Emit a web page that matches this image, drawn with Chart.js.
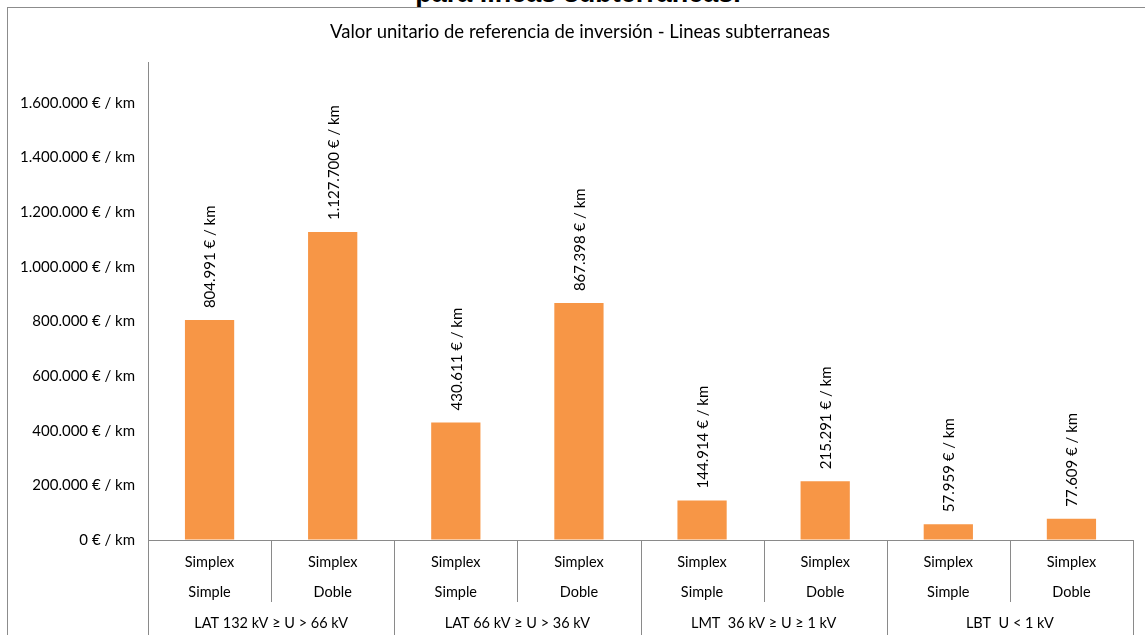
<!DOCTYPE html>
<html>
<head>
<meta charset="utf-8">
<script src="https://cdn.jsdelivr.net/npm/chart.js@4.4.1/dist/chart.umd.min.js"></script>
<style>
  html, body { margin: 0; padding: 0; background: #fff; width: 1145px; height: 635px; overflow: hidden; }
  #frame { position: absolute; left: 7px; top: 7px; width: 1200px; height: 700px; border: 1px solid #8c8c8c; box-sizing: border-box; }
  #pagetitle { position: absolute; left: 0; width: 1156px; top: -20px; text-align: center; font: bold 27px "Liberation Sans", Arial, sans-serif; line-height: 27px; color: #000; white-space: nowrap; }
  #wrap { position: absolute; left: 0; top: 0; width: 1145px; height: 635px; }
</style>
</head>
<body>
<div id="pagetitle">para líneas subterráneas.</div>
<div id="frame"></div>
<div id="wrap"><canvas id="c" width="1145" height="635"></canvas></div>
<script>
const chartTitle = 'Valor unitario de referencia de inversión - Lineas subterraneas';
const conductors = ['Simplex', 'Simplex', 'Simplex', 'Simplex', 'Simplex', 'Simplex', 'Simplex', 'Simplex'];
const circuits = ['Simple', 'Doble', 'Simple', 'Doble', 'Simple', 'Doble', 'Simple', 'Doble'];
const groups = ['LAT 132 kV ≥ U > 66 kV', 'LAT 66 kV ≥ U > 36 kV', 'LMT  36 kV ≥ U ≥ 1 kV', 'LBT  U < 1 kV'];
const values = [804991, 1127700, 430611, 867398, 144914, 215291, 57959, 77609];
const yTickValues = [0, 200000, 400000, 600000, 800000, 1000000, 1200000, 1400000, 1600000];
const yMin = 0;
const yMax = 1750000;
const unit = '€ / km';

const FONT = 'Lato, "Open Sans", sans-serif';
function fmt(v) {
  return Math.round(v).toString().replace(/\B(?=(\d{3})+(?!\d))/g, '.') + ' ' + unit;
}

const titlePlugin = {
  id: 'boxTitle',
  afterDraw(chart) {
    const ctx = chart.ctx;
    ctx.save();
    ctx.fillStyle = '#000';
    ctx.font = '18.5px ' + FONT;
    ctx.textAlign = 'center';
    ctx.textBaseline = 'middle';
    ctx.fillText(chartTitle, 580, 32);
    ctx.restore();
  }
};

const categoryPlugin = {
  id: 'categoryRows',
  afterDraw(chart) {
    const x = chart.scales.x;
    const area = chart.chartArea;
    const ctx = chart.ctx;
    const n = values.length;
    const px = i => x.getPixelForValue(i);
    ctx.save();
    ctx.strokeStyle = '#8a8a8a';
    ctx.lineWidth = 1;
    for (let i = 0; i <= n; i++) {
      let bx;
      if (i === 0) bx = area.left;
      else if (i === n) bx = area.right;
      else bx = (px(i - 1) + px(i)) / 2;
      bx = Math.round(bx) + 0.5;
      const bottom = (i % 2 === 0) ? chart.height : area.bottom + 62;
      ctx.beginPath();
      ctx.moveTo(bx, area.bottom);
      ctx.lineTo(bx, bottom);
      ctx.stroke();
    }
    ctx.fillStyle = '#000';
    ctx.font = '14.5px ' + FONT;
    ctx.textAlign = 'center';
    ctx.textBaseline = 'middle';
    for (let i = 0; i < n; i++) {
      ctx.fillText(conductors[i], px(i), area.bottom + 22);
      ctx.fillText(circuits[i], px(i), area.bottom + 52);
    }
    for (let g = 0; g < groups.length; g++) {
      const cx = (px(2 * g) + px(2 * g + 1)) / 2;
      ctx.fillText(groups[g], cx, area.bottom + 83);
    }
    ctx.restore();
  }
};

const valueLabelPlugin = {
  id: 'valueLabels',
  afterDatasetsDraw(chart) {
    const ctx = chart.ctx;
    const meta = chart.getDatasetMeta(0);
    ctx.save();
    ctx.fillStyle = '#000';
    ctx.font = '15px ' + FONT;
    ctx.textAlign = 'left';
    ctx.textBaseline = 'middle';
    meta.data.forEach((bar, i) => {
      ctx.save();
      ctx.translate(bar.x + 1, bar.y - 12);
      ctx.rotate(-Math.PI / 2);
      ctx.fillText(fmt(values[i]), 0, 0);
      ctx.restore();
    });
    ctx.restore();
  }
};

new Chart(document.getElementById('c'), {
  type: 'bar',
  data: {
    labels: circuits.map((c, i) => conductors[i] + ' ' + c),
    datasets: [{
      data: values,
      backgroundColor: '#F79646',
      borderWidth: 0,
      barPercentage: 0.4,
      categoryPercentage: 1.0
    }]
  },
  options: {
    responsive: false,
    animation: false,
    devicePixelRatio: 1,
    layout: { padding: { left: 0, right: 12, top: 62, bottom: 0 } },
    plugins: {
      legend: { display: false },
      tooltip: { enabled: false },
      title: { display: false }
    },
    scales: {
      x: {
        grid: { display: false, drawTicks: false },
        border: { display: true, color: '#8a8a8a', width: 1 },
        ticks: { display: false },
        afterFit(scale) { scale.height = 95; }
      },
      y: {
        min: yMin,
        max: yMax,
        grid: { display: true, drawOnChartArea: false, drawTicks: false },
        border: { display: true, color: '#8a8a8a', width: 1 },
        ticks: {
          color: '#000',
          padding: 13,
          autoSkip: false,
          font: { family: FONT, size: 15 },
          callback: v => fmt(v)
        },
        afterBuildTicks(scale) {
          scale.ticks = yTickValues.map(v => ({ value: v }));
        },
        afterFit(scale) { scale.width = 148; }
      }
    }
  },
  plugins: [titlePlugin, categoryPlugin, valueLabelPlugin]
});
</script>
</body>
</html>
